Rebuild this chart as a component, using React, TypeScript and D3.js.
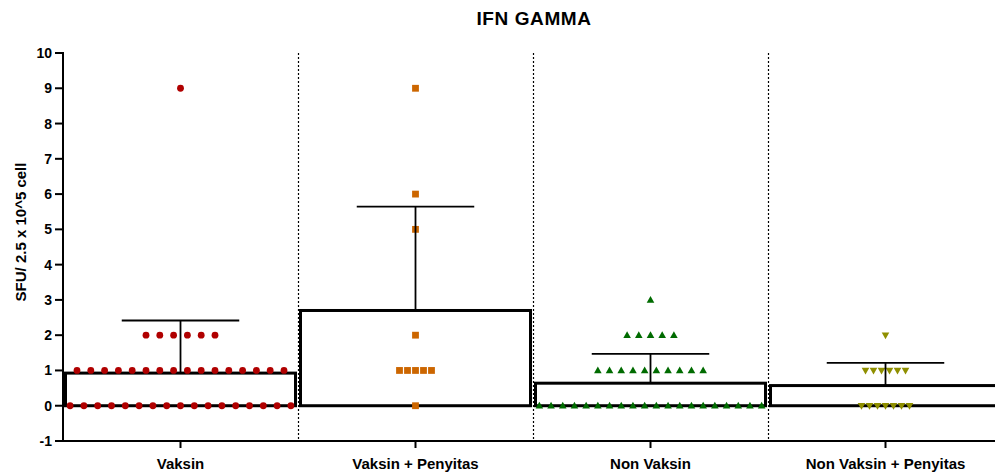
import React from "react";
import * as d3 from "d3";

const categories = ["Vaksin", "Vaksin + Penyitas", "Non Vaksin", "Non Vaksin + Penyitas"];
const vaksin = [9, 2, 2, 2, 2, 2, 2, 1, 1, 1, 1, 1, 1, 1, 1, 1, 1, 1, 1, 1, 1, 1, 1, 0, 0, 0, 0, 0, 0, 0, 0, 0, 0, 0, 0, 0, 0, 0, 0, 0];
const vaksinPenyitas = [9, 6, 5, 2, 1, 1, 1, 1, 1, 0];
const nonVaksin = [3, 2, 2, 2, 2, 2, 1, 1, 1, 1, 1, 1, 1, 1, 1, 1, 0, 0, 0, 0, 0, 0, 0, 0, 0, 0, 0, 0, 0, 0, 0, 0, 0, 0, 0, 0];
const nonVaksinPenyitas = [2, 1, 1, 1, 1, 1, 1, 0, 0, 0, 0, 0, 0, 0];
const seriesValues = [vaksin, vaksinPenyitas, nonVaksin, nonVaksinPenyitas];
const yTicks = [-1, 0, 1, 2, 3, 4, 5, 6, 7, 8, 9, 10];

const colors = ["#B00000", "#CC6600", "#006B00", "#8F8F00"];
const symbols = ["circle", "square", "triangle", "triangleDown"];
const spacing = [13.8, 8, 11.7, 8];

const W = 995;
const H = 472;
const FONT = "'Liberation Sans', Arial, sans-serif";

export default function App() {
  const x = d3.scaleBand<string>().domain(categories).range([63, 1003]).padding(0);
  const y = d3.scaleLinear().domain([-1, 10]).range([441, 53]);
  const bw = x.bandwidth();

  const stats = seriesValues.map((vals) => ({
    mean: d3.mean(vals) as number,
    sd: d3.deviation(vals) as number,
  }));

  const marker = (kind: string, cx: number, cy: number, color: string, key: string) => {
    if (kind === "circle") return <circle key={key} cx={cx} cy={cy} r={3.4} fill={color} />;
    if (kind === "square")
      return <rect key={key} x={cx - 3.4} y={cy - 3.4} width={6.8} height={6.8} fill={color} />;
    if (kind === "triangle")
      return (
        <path key={key} d={`M${cx},${cy - 4}L${cx + 3.8},${cy + 2.8}L${cx - 3.8},${cy + 2.8}Z`} fill={color} />
      );
    return (
      <path key={key} d={`M${cx},${cy + 4}L${cx + 3.8},${cy - 2.8}L${cx - 3.8},${cy - 2.8}Z`} fill={color} />
    );
  };

  return (
    <svg width={W} height={H} style={{ position: "absolute", left: 0, top: 0, fontFamily: FONT }}>
      <rect width={W} height={H} fill="#fff" />
      <text x={534} y={25} textAnchor="middle" fontSize={19} fontWeight="bold" letterSpacing={0.6}>
        IFN GAMMA
      </text>

      {/* dividers */}
      {categories.slice(1).map((c) => (
        <line
          key={"div" + c}
          x1={(x(c) as number) + 0.5}
          x2={(x(c) as number) + 0.5}
          y1={y(10)}
          y2={y(-1)}
          stroke="#000"
          strokeWidth={1.2}
          strokeDasharray="2,2"
        />
      ))}

      {/* bars */}
      {categories.map((c, i) => (
        <rect
          key={"bar" + c}
          x={(x(c) as number) + 2.5}
          y={y(stats[i].mean)}
          width={bw - 5}
          height={y(0) - y(stats[i].mean)}
          fill="#fff"
          stroke="#000"
          strokeWidth={3}
        />
      ))}

      {/* points */}
      {categories.map((c, i) => {
        const cx = (x(c) as number) + bw / 2;
        const groups = d3.groups(seriesValues[i], (v) => v);
        return groups.flatMap(([v, arr]) =>
          arr.map((_, j) =>
            marker(
              symbols[i],
              cx + (j - (arr.length - 1) / 2) * spacing[i],
              y(v),
              colors[i],
              `p${i}-${v}-${j}`
            )
          )
        );
      })}

      {/* error bars */}
      {categories.map((c, i) => {
        const cx = (x(c) as number) + bw / 2;
        const top = y(stats[i].mean + stats[i].sd);
        return (
          <g key={"err" + c} stroke="#000" strokeWidth={1.8}>
            <line x1={cx} x2={cx} y1={y(stats[i].mean)} y2={top} />
            <line x1={cx - bw / 4} x2={cx + bw / 4} y1={top} y2={top} />
          </g>
        );
      })}

      {/* y axis */}
      <line x1={63} x2={63} y1={y(10) - 1} y2={y(-1) + 1} stroke="#000" strokeWidth={2} />
      {yTicks.map((t) => (
        <g key={"yt" + t}>
          <line x1={55} x2={63} y1={y(t)} y2={y(t)} stroke="#000" strokeWidth={2} />
          <text x={52} y={y(t)} dy="0.36em" textAnchor="end" fontSize={14} fontWeight="bold">
            {t}
          </text>
        </g>
      ))}
      <text
        transform={`translate(21,232) rotate(-90)`}
        textAnchor="middle"
        dy="0.35em"
        fontSize={15}
        fontWeight="bold"
      >
        SFU/ 2.5 x 10^5 cell
      </text>

      {/* x axis */}
      <line x1={62} x2={W} y1={y(-1)} y2={y(-1)} stroke="#000" strokeWidth={2} />
      {categories.map((c) => {
        const cx = (x(c) as number) + bw / 2;
        return (
          <g key={"xt" + c}>
            <line x1={cx} x2={cx} y1={y(-1)} y2={y(-1) + 7} stroke="#000" strokeWidth={2} />
            <text x={cx} y={469} textAnchor="middle" fontSize={15} fontWeight="bold">
              {c}
            </text>
          </g>
        );
      })}
    </svg>
  );
}
